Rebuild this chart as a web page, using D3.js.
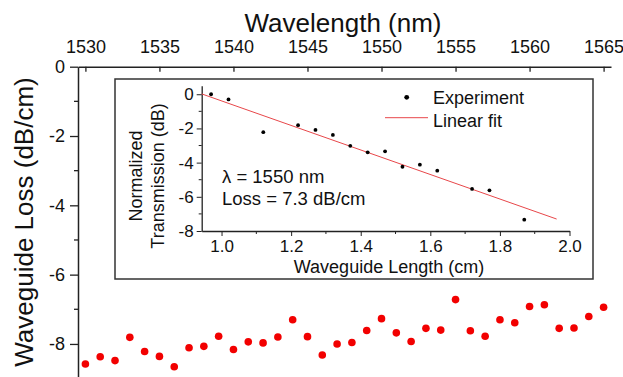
<!DOCTYPE html>
<html>
<head>
<meta charset="utf-8">
<script src="https://cdn.jsdelivr.net/npm/d3@7"></script>
<style>
  body { margin: 0; background: #fff; }
  svg { font-family: "Liberation Sans", Arial, sans-serif; }
</style>
</head>
<body>
<div id="chart"></div>
<script>
// main plot: loss vs wavelength
const wavelength = [1530, 1531, 1532, 1533, 1534, 1535, 1536, 1537, 1538, 1539,
  1540, 1541, 1542, 1543, 1544, 1545, 1546, 1547, 1548, 1549,
  1550, 1551, 1552, 1553, 1554, 1555, 1556, 1557, 1558, 1559,
  1560, 1561, 1562, 1563, 1564, 1565];
const loss = [-8.58, -8.37, -8.48, -7.81, -8.22, -8.36, -8.66, -8.11, -8.07, -7.78,
  -8.16, -7.94, -7.97, -7.80, -7.30, -7.79, -8.32, -8.00, -7.96, -7.61,
  -7.27, -7.68, -7.93, -7.55, -7.60, -6.72, -7.62, -7.78, -7.30, -7.39,
  -6.92, -6.87, -7.55, -7.54, -7.21, -6.94];
const xTicks = [1530, 1535, 1540, 1545, 1550, 1555, 1560, 1565];
const yTicks = [0, -2, -4, -6, -8];

// inset: normalized transmission vs length
const insetLength = [0.97, 1.02, 1.12, 1.22, 1.27, 1.32, 1.37, 1.42, 1.47, 1.52, 1.57, 1.62, 1.72, 1.77, 1.87];
const insetTrans = [0, -0.3, -2.22, -1.81, -2.09, -2.38, -3.02, -3.4, -3.34, -4.24, -4.12, -4.47, -5.54, -5.62, -7.34];
const fitLength = [0.943, 1.963];
const fitTrans = [0.02, -7.30];
const insetXTicks = [1.0, 1.2, 1.4, 1.6, 1.8, 2.0];
const insetYTicks = [0, -2, -4, -6, -8];

const W = 623, H = 377;
const svg = d3.select("#chart").append("svg")
    .attr("width", W).attr("height", H);

const x = d3.scaleLinear().domain([1529.5, 1565.5]).range([78, 611]);
const y = d3.scaleLinear().domain([0, -9]).range([66.7, 378.6]);

const axisColor = "#222";

// top axis
const gx = svg.append("g").attr("transform", `translate(0,${y(0)})`)
    .call(d3.axisTop(x).tickValues(xTicks).tickFormat(d => d).tickSizeInner(-5).tickSizeOuter(0).tickPadding(14));
gx.select(".domain").attr("stroke", axisColor).attr("stroke-width", 1.5);
gx.selectAll(".tick line").attr("stroke", axisColor).attr("stroke-width", 1.3);
gx.selectAll("text").attr("font-size", 18).attr("fill", "#111");

// left axis
const gy = svg.append("g").attr("transform", `translate(${x(1529.5)},0)`)
    .call(d3.axisLeft(y).tickValues(yTicks).tickFormat(d => d).tickSize(8).tickSizeOuter(0).tickPadding(5));
gy.select(".domain").attr("stroke", axisColor).attr("stroke-width", 1.5);
gy.selectAll(".tick line").attr("stroke", axisColor).attr("stroke-width", 1.3);
gy.selectAll("text").attr("font-size", 18).attr("fill", "#111");
gy.selectAll(".minor").data([-1, -3, -5, -7]).enter().append("line")
    .attr("class", "minor")
    .attr("x1", -4).attr("x2", 0)
    .attr("y1", d => y(d)).attr("y2", d => y(d))
    .attr("stroke", axisColor).attr("stroke-width", 1.3);

svg.append("text").attr("x", 343).attr("y", 32).attr("text-anchor", "middle")
    .attr("font-size", 26).attr("fill", "#111").text("Wavelength (nm)");
svg.append("text").attr("transform", "translate(33,222) rotate(-90)").attr("text-anchor", "middle")
    .attr("font-size", 26).attr("fill", "#111").text("Waveguide Loss (dB/cm)");

svg.append("g").selectAll("circle").data(wavelength).enter().append("circle")
    .attr("cx", d => x(d))
    .attr("cy", (d, i) => y(loss[i]))
    .attr("r", 3.8)
    .attr("fill", "#f20000");

// inset box
svg.append("rect").attr("x", 115).attr("y", 79).attr("width", 478).attr("height", 200)
    .attr("fill", "#fff").attr("stroke", "#333").attr("stroke-width", 1.5);

const ix = d3.scaleLinear().domain([0.943, 2.0]).range([201.7, 569.5]);
const iy = d3.scaleLinear().domain([-8, 0.5]).range([231, 85.7]);

const igx = svg.append("g").attr("transform", `translate(0,${iy(-8)})`)
    .call(d3.axisBottom(ix).tickValues(insetXTicks).tickFormat(d3.format(".1f")).tickSize(5).tickSizeOuter(0).tickPadding(4));
igx.select(".domain").attr("stroke", axisColor).attr("stroke-width", 1.3);
igx.selectAll(".tick line").attr("stroke", axisColor);
igx.selectAll("text").attr("font-size", 17).attr("fill", "#111");
igx.selectAll(".minor").data([1.1, 1.3, 1.5, 1.7, 1.9]).enter().append("line")
    .attr("class", "minor")
    .attr("x1", d => ix(d)).attr("x2", d => ix(d))
    .attr("y1", 0).attr("y2", 3)
    .attr("stroke", axisColor);

const igy = svg.append("g").attr("transform", `translate(${ix(0.943)},0)`)
    .call(d3.axisLeft(iy).tickValues(insetYTicks).tickFormat(d => d).tickSize(5).tickSizeOuter(0).tickPadding(3));
igy.select(".domain").attr("stroke", axisColor).attr("stroke-width", 1.3);
igy.selectAll(".tick line").attr("stroke", axisColor);
igy.selectAll("text").attr("font-size", 17).attr("fill", "#111");
igy.selectAll(".minor").data([-1, -3, -5, -7]).enter().append("line")
    .attr("class", "minor")
    .attr("x1", -3).attr("x2", 0)
    .attr("y1", d => iy(d)).attr("y2", d => iy(d))
    .attr("stroke", axisColor);

// fit line
svg.append("path")
    .datum(fitLength)
    .attr("d", d3.line().x(d => ix(d)).y((d, i) => iy(fitTrans[i])))
    .attr("fill", "none").attr("stroke", "#e8474a").attr("stroke-width", 1);

svg.append("g").selectAll("circle").data(insetLength).enter().append("circle")
    .attr("cx", d => ix(d))
    .attr("cy", (d, i) => iy(insetTrans[i]))
    .attr("r", 1.9)
    .attr("fill", "#000");

// inset labels
svg.append("text").attr("x", 389).attr("y", 273).attr("text-anchor", "middle")
    .attr("font-size", 18).attr("fill", "#111").text("Waveguide Length (cm)");
svg.append("text").attr("transform", "translate(142,176) rotate(-90)").attr("text-anchor", "middle")
    .attr("font-size", 18).attr("fill", "#111").text("Normalized");
svg.append("text").attr("transform", "translate(164,176) rotate(-90)").attr("text-anchor", "middle")
    .attr("font-size", 18).attr("fill", "#111").text("Transmission (dB)");

svg.append("text").attr("x", 222).attr("y", 183).attr("font-size", 18.5).attr("fill", "#111").text("λ = 1550 nm");
svg.append("text").attr("x", 222).attr("y", 205).attr("font-size", 18.5).attr("fill", "#111").text("Loss = 7.3 dB/cm");

// legend
svg.append("circle").attr("cx", 406.7).attr("cy", 97.3).attr("r", 2.4).attr("fill", "#000");
svg.append("text").attr("x", 433).attr("y", 103.5).attr("font-size", 18).attr("fill", "#111").text("Experiment");
svg.append("line").attr("x1", 385).attr("x2", 428).attr("y1", 117.7).attr("y2", 117.7)
    .attr("stroke", "#e8474a").attr("stroke-width", 1);
svg.append("text").attr("x", 433).attr("y", 127).attr("font-size", 18).attr("fill", "#111").text("Linear fit");
</script>
</body>
</html>
